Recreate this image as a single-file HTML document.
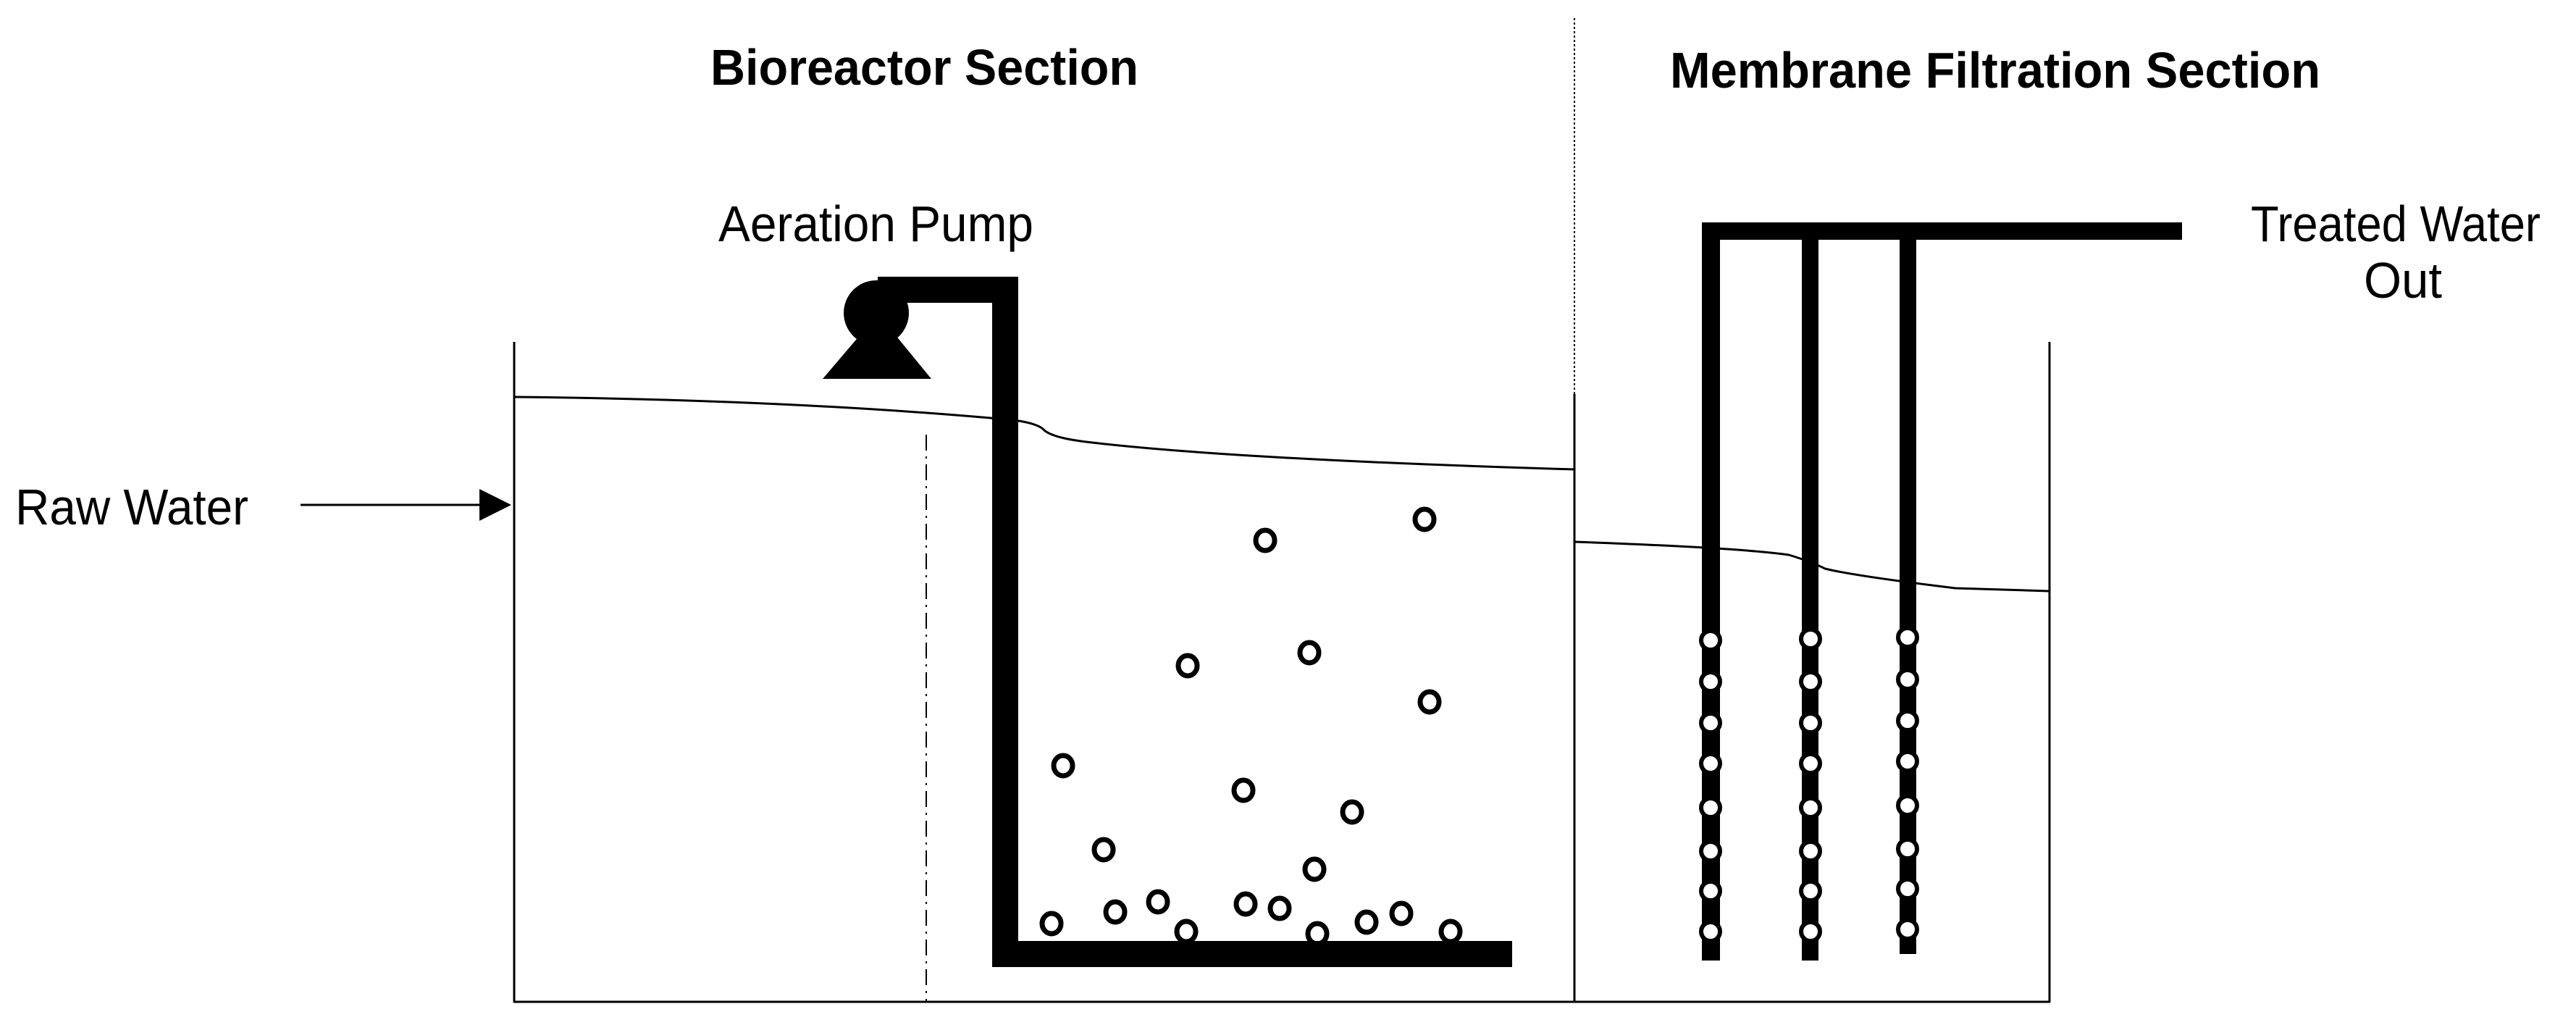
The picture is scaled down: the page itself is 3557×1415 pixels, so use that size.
<!DOCTYPE html>
<html><head><meta charset="utf-8"><style>html,body{margin:0;padding:0;background:#fff}svg{display:block}</style></head>
<body>
<svg width="3557" height="1415" viewBox="0 0 3557 1415" xmlns="http://www.w3.org/2000/svg">
<g font-family="Liberation Sans, Arial, sans-serif" fill="#000">
<text x="981" y="117" font-size="70" font-weight="bold" textLength="591" lengthAdjust="spacingAndGlyphs">Bioreactor Section</text>
<text x="2306" y="121" font-size="70" font-weight="bold" textLength="898" lengthAdjust="spacingAndGlyphs">Membrane Filtration Section</text>
<text x="992" y="333" font-size="70" textLength="435" lengthAdjust="spacingAndGlyphs">Aeration Pump</text>
<text x="21" y="724" font-size="70" textLength="322" lengthAdjust="spacingAndGlyphs">Raw Water</text>
<text x="3108" y="333" font-size="70" textLength="400" lengthAdjust="spacingAndGlyphs">Treated Water</text>
<text x="3264" y="411" font-size="70" textLength="108" lengthAdjust="spacingAndGlyphs">Out</text>
</g>
<g stroke="#000" fill="none">
<line x1="415" y1="697" x2="668" y2="697" stroke-width="3"/>
<polygon points="662,675 706,697 662,719" fill="#000" stroke="none"/>
<line x1="710" y1="472" x2="710" y2="1384" stroke-width="3"/>
<line x1="709" y1="1383" x2="2831" y2="1383" stroke-width="3"/>
<line x1="2174" y1="544" x2="2174" y2="1384" stroke-width="3"/>
<line x1="2174" y1="25" x2="2174" y2="544" stroke-width="2" stroke-dasharray="3,3"/>
<line x1="2830" y1="472" x2="2830" y2="1384" stroke-width="3"/>
<line x1="1279" y1="600" x2="1279" y2="1383" stroke-width="2" stroke-dasharray="22,8,3,8"/>
<path d="M710,548 Q1100,552 1400,580 Q1430,584 1440,592 Q1450,604 1500,610 Q1700,634 2174,648" stroke-width="3"/>
<path d="M2174,748 Q2400,756 2470,766 Q2500,775 2520,785 Q2560,795 2700,812 L2830,816" stroke-width="3"/>
</g>
<g fill="#000">
<circle cx="1210" cy="432" r="45"/>
<rect x="1212" y="382" width="194" height="36"/>
<polygon points="1188,462 1236,462 1286,523 1136,523"/>
<rect x="1370" y="382" width="36" height="953"/>
<rect x="1370" y="1299" width="718" height="36"/>
<rect x="2350" y="307" width="663" height="24"/>
<rect x="2350" y="307" width="25" height="1019"/>
<rect x="2488" y="307" width="23" height="1019"/>
<rect x="2623" y="307" width="23" height="1010"/>
</g>
<g fill="#fff" stroke="#000" stroke-width="6">
<circle cx="2362" cy="884" r="13"/><circle cx="2362" cy="941" r="13"/><circle cx="2362" cy="998" r="13"/><circle cx="2362" cy="1054" r="13"/>
<circle cx="2362" cy="1115" r="13"/><circle cx="2362" cy="1175" r="13"/><circle cx="2362" cy="1230" r="13"/><circle cx="2362" cy="1286" r="13"/>
<circle cx="2500" cy="882" r="13"/><circle cx="2500" cy="941" r="13"/><circle cx="2500" cy="998" r="13"/><circle cx="2500" cy="1054" r="13"/>
<circle cx="2500" cy="1115" r="13"/><circle cx="2500" cy="1175" r="13"/><circle cx="2500" cy="1230" r="13"/><circle cx="2500" cy="1286" r="13"/>
<circle cx="2634" cy="880" r="13"/><circle cx="2634" cy="938" r="13"/><circle cx="2634" cy="995" r="13"/><circle cx="2634" cy="1051" r="13"/>
<circle cx="2634" cy="1112" r="13"/><circle cx="2634" cy="1172" r="13"/><circle cx="2634" cy="1227" r="13"/><circle cx="2634" cy="1283" r="13"/>
</g>
<g fill="none" stroke="#000" stroke-width="7">
<ellipse cx="1747" cy="746" rx="13" ry="14"/><ellipse cx="1967" cy="717" rx="13" ry="14"/>
<ellipse cx="1640" cy="919" rx="13" ry="14"/><ellipse cx="1808" cy="901" rx="13" ry="14"/>
<ellipse cx="1974" cy="969" rx="13" ry="14"/><ellipse cx="1468" cy="1057" rx="13" ry="14"/>
<ellipse cx="1717" cy="1091" rx="13" ry="14"/><ellipse cx="1867" cy="1121" rx="13" ry="14"/>
<ellipse cx="1524" cy="1173" rx="13" ry="14"/><ellipse cx="1815" cy="1200" rx="13" ry="14"/>
<ellipse cx="1452" cy="1275" rx="13" ry="14"/><ellipse cx="1540" cy="1259" rx="13" ry="14"/>
<ellipse cx="1599" cy="1245" rx="13" ry="14"/><ellipse cx="1638" cy="1286" rx="13" ry="14"/>
<ellipse cx="1720" cy="1248" rx="13" ry="14"/><ellipse cx="1767" cy="1254" rx="13" ry="14"/>
<ellipse cx="1819" cy="1289" rx="13" ry="14"/><ellipse cx="1887" cy="1273" rx="13" ry="14"/>
<ellipse cx="1935" cy="1261" rx="13" ry="14"/><ellipse cx="2003" cy="1286" rx="13" ry="14"/>
</g>
</svg>
</body></html>
